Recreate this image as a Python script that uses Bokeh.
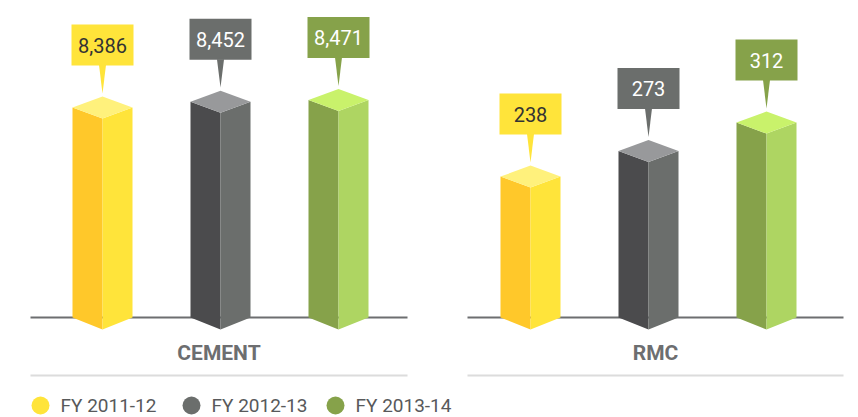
from bokeh.plotting import figure
from bokeh.models import Range1d
from bokeh.core.properties import value
from bokeh.embed import file_html
from bokeh.resources import INLINE

# ---------------- data ----------------
groups = ["CEMENT", "RMC"]
series = ["FY 2011-12", "FY 2012-13", "FY 2013-14"]
cement_values = [8386, 8452, 8471]
rmc_values = [238, 273, 312]
cement_labels = ["8,386", "8,452", "8,471"]
rmc_labels = ["238", "273", "312"]

# ---------------- styles ----------------
left_face = ["#FFC82A", "#4B4B4D", "#86A24A"]
right_face = ["#FFE43A", "#6B6E6C", "#AED562"]
top_face = ["#FFF17C", "#98999B", "#C9F26B"]
box_fill = ["#FFE43A", "#6B6E6C", "#86A24A"]
box_text = ["#333333", "#FFFFFF", "#FFFFFF"]
legend_dot = ["#FFE43A", "#6B6E6C", "#86A24A"]

W, H = 858, 417
TOP, BOTTOM = 0, H              # screen y of frame top / bottom
BASE_Y = 317                    # screen y of baseline
GROUP_CX = [220, 648]
SPACING = 118
HALF_W = 30
DEPTH = 11                      # px of the isometric offset
BOX_HALF_W, BOX_H, BOX_GAP, TIP_GAP, TIP_HALF = 31, 41, 31, 3, 3.5
LINE_EXT = [(30, 407), (467, 843)]

# value ranges for each panel (axis start / px per unit)
axis_base = [6000, 45]
px_per_unit = [0.088, 0.73]

p = figure(width=W, height=H, x_range=Range1d(0, W), y_range=Range1d(BOTTOM, TOP),
           output_backend="svg", toolbar_location=None, min_border=0)
p.axis.visible = False
p.grid.visible = False
p.outline_line_color = None
p.background_fill_color = "white"
p.border_fill_color = "white"

range_names = ["cement", "rmc"]
for g, name in enumerate(range_names):
    b, k = axis_base[g], px_per_unit[g]
    p.extra_y_ranges[name] = Range1d(b - (BOTTOM - BASE_Y) / k, b + (BASE_Y - TOP) / k)

# baselines and separators (layout, screen-px range)
for (x0, x1) in LINE_EXT:
    p.segment(x0=[x0], y0=[BASE_Y], x1=[x1], y1=[BASE_Y], line_color="#6D6E70", line_width=2)
    p.segment(x0=[x0], y0=[375], x1=[x1], y1=[375], line_color="#DCDCDC", line_width=2)

all_values = [cement_values, rmc_values]
all_labels = [cement_labels, rmc_labels]

for g, name in enumerate(range_names):
    k = px_per_unit[g]
    base = axis_base[g]
    d = DEPTH / k
    vals = all_values[g]
    for i, v in enumerate(vals):
        c = GROUP_CX[g] + (i - 1) * SPACING
        l, r = c - HALF_W, c + HALF_W
        # left face
        p.patch(x=[l, l, c, c], y=[base, v, v - d, base - 12 / k],
                fill_color=left_face[i], line_color=None, y_range_name=name)
        # right face
        p.patch(x=[c, c, r, r], y=[base - 12 / k, v - d, v, base],
                fill_color=right_face[i], line_color=None, y_range_name=name)
        # top
        p.patch(x=[l, c, r, c], y=[v, v + d, v, v - d],
                fill_color=top_face[i], line_color=None, y_range_name=name)
        # callout
        back = v + d
        bb = back + BOX_GAP / k
        bt = bb + BOX_H / k
        p.quad(left=[c - BOX_HALF_W], right=[c + BOX_HALF_W], bottom=[bb], top=[bt],
               fill_color=box_fill[i], line_color=None, y_range_name=name)
        p.patch(x=[c - TIP_HALF, c + TIP_HALF, c], y=[bb + 0.5 / k, bb + 0.5 / k, back + TIP_GAP / k],
                fill_color=box_fill[i], line_color=None, y_range_name=name)
        p.text(x=[c], y=[(bb + bt) / 2], text=[all_labels[g][i]], text_align="center",
               text_baseline="middle", text_font=value("Roboto"), text_font_size="20px",
               text_color=box_text[i], y_range_name=name)

# group labels
for g, gname in enumerate(groups):
    x0, x1 = LINE_EXT[g]
    p.text(x=[(x0 + x1) / 2], y=[352], text=[gname], text_align="center", text_baseline="middle",
           text_font=value("Roboto"), text_font_size="21px", text_font_style="bold",
           text_color="#6D6E70")

# legend
dot_x = [40, 191, 335]
for i, s in enumerate(series):
    p.scatter(x=[dot_x[i]], y=[405], size=18, marker="circle", fill_color=legend_dot[i], line_color=None)
    p.text(x=[dot_x[i] + 20], y=[405], text=[s], text_align="left", text_baseline="middle",
           text_font=value("Roboto"), text_font_size="19px", text_color="#58595B")

open("out.html", "w").write(file_html(p, INLINE))
